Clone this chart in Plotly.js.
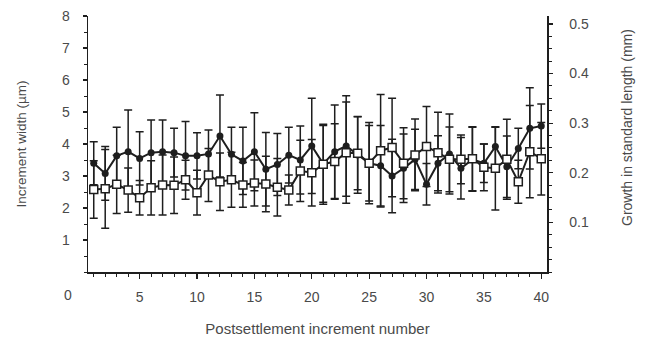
<!DOCTYPE html>
<html>
<head>
<meta charset="utf-8">
<script src="https://cdn.plot.ly/plotly-3.0.1.min.js"></script>
<style>html,body{margin:0;padding:0;background:#fff;}#chart{width:646px;height:342px;}</style>
</head>
<body>
<div id="chart"></div>
<script>
const increment = [1,2,3,4,5,6,7,8,9,10,11,12,13,14,15,16,17,18,19,20,21,22,23,24,25,26,27,28,29,30,31,32,33,34,35,36,37,38,39,40];
const filledMean = [3.40,3.08,3.63,3.76,3.55,3.73,3.76,3.73,3.63,3.63,3.69,4.25,3.68,3.47,3.76,3.21,3.36,3.65,3.50,3.94,3.38,3.76,3.94,3.66,3.40,3.32,3.00,3.24,3.52,2.74,3.40,3.69,3.24,3.52,3.40,3.92,3.29,3.86,4.49,4.56];
const filledSD   = [0.67,0.84,0.89,1.30,0.83,1.02,0.99,0.76,1.07,0.72,0.75,1.28,0.84,1.05,1.22,1.15,0.97,0.87,1.06,1.49,1.20,1.46,1.57,1.20,1.27,1.26,1.15,1.07,0.94,0.65,0.86,1.25,0.96,1.00,0.60,0.60,0.96,0.63,1.27,0.69];
const openMean   = [2.58,2.60,2.74,2.56,2.32,2.63,2.72,2.71,2.88,2.48,3.03,2.82,2.88,2.72,2.78,2.75,2.65,2.56,3.16,3.10,3.37,3.45,3.73,3.71,3.40,3.79,3.89,3.40,3.66,3.92,3.73,3.52,3.52,3.54,3.27,3.24,3.52,2.82,3.76,3.54];
const openSD     = [0.90,1.23,0.91,0.69,0.54,0.85,0.94,0.88,0.61,0.70,0.83,0.90,0.86,0.70,0.72,0.87,0.90,0.47,0.96,1.04,1.25,1.18,1.58,1.14,1.18,1.76,1.54,1.11,1.12,1.25,1.26,1.01,0.76,1.00,0.73,1.30,1.25,0.67,1.44,1.13];
const xTickVals = [5,10,15,20,25,30,35,40];
const leftTickVals = [1,2,3,4,5,6,7,8];
const rightTickVals = [0.1,0.2,0.3,0.4,0.5];
const rightTickText = ['0.1','0.2','0.3','0.4','0.5'];

const ink = '#1e1e1e';
const textCol = '#4a4a4a';
const fontFam = '"Liberation Sans", Arial, Helvetica, sans-serif';

const traces = [
  {
    x: increment, y: filledMean, type: 'scatter', mode: 'lines+markers',
    line: {color: ink, width: 2},
    marker: {symbol: 'circle', size: 7, color: ink},
    error_y: {type: 'data', array: filledSD, visible: true, color: ink, thickness: 1.5, width: 4},
    showlegend: false, hoverinfo: 'skip'
  },
  {
    x: increment, y: openMean, type: 'scatter', mode: 'lines+markers',
    line: {color: ink, width: 2},
    marker: {symbol: 'square', size: 8, color: '#ffffff', line: {color: ink, width: 1.5}},
    error_y: {type: 'data', array: openSD, visible: true, color: ink, thickness: 1.5, width: 4},
    showlegend: false, hoverinfo: 'skip'
  },
  {
    x: [null], y: [null], yaxis: 'y2', type: 'scatter', mode: 'markers',
    showlegend: false, hoverinfo: 'skip'
  }
];

const layout = {
  width: 646, height: 342,
  margin: {l: 88, r: 99, t: 16, b: 70},
  paper_bgcolor: '#ffffff', plot_bgcolor: '#ffffff',
  font: {family: fontFam, size: 14, color: textCol},
  showlegend: false,
  xaxis: {
    range: [0.5, 40.5], tickmode: 'array', tickvals: xTickVals,
    tickfont: {size: 14, color: textCol},
    showgrid: false, zeroline: false, showline: true, linecolor: ink, linewidth: 1.5,
    ticks: 'outside', ticklen: 5, tickwidth: 1.2, tickcolor: ink, ticklabelstandoff: 7,
    minor: {dtick: 1, tick0: 0, ticks: 'outside', ticklen: 3, tickcolor: ink, tickwidth: 1, showgrid: false},
    title: {text: 'Postsettlement increment number', standoff: 19, font: {size: 15, color: textCol}},
    automargin: false
  },
  yaxis: {
    range: [0, 8], tickmode: 'array', tickvals: leftTickVals,
    tickfont: {size: 14, color: textCol},
    showgrid: false, zeroline: false, showline: true, linecolor: ink, linewidth: 1.5,
    ticks: 'outside', ticklen: 4, tickwidth: 1.2, tickcolor: ink, ticklabelstandoff: 10,
    minor: {dtick: 0.5, tick0: 0, ticks: 'outside', ticklen: 3, tickcolor: ink, tickwidth: 1, showgrid: false},
    title: {text: 'Increment width (µm)', standoff: 32, font: {size: 13.5, color: textCol}},
    automargin: false
  },
  yaxis2: {
    overlaying: 'y', side: 'right', anchor: 'x',
    range: [0, 0.516], tickmode: 'array', tickvals: rightTickVals, ticktext: rightTickText,
    tickfont: {size: 14, color: textCol},
    showgrid: false, zeroline: false, showline: true, linecolor: ink, linewidth: 1.5,
    ticks: 'outside', ticklen: 4, tickwidth: 1.2, tickcolor: ink, ticklabelstandoff: 14,
    minor: {dtick: 0.025, tick0: 0, ticks: 'outside', ticklen: 3, tickcolor: ink, tickwidth: 1, showgrid: false},
    automargin: false
  },
  annotations: [
    {text: '0', xref: 'paper', yref: 'paper', x: -0.043, y: -0.09, showarrow: false,
     xanchor: 'center', yanchor: 'middle', font: {size: 14, color: textCol}},
    {text: 'Growth in standard length (mm)', xref: 'paper', yref: 'paper', x: 1.174, y: 0.566,
     textangle: -90, showarrow: false, xanchor: 'center', yanchor: 'middle', font: {size: 14, color: textCol}}
  ]
};

Plotly.newPlot('chart', traces, layout, {staticPlot: true, displayModeBar: false});
</script>
</body>
</html>
